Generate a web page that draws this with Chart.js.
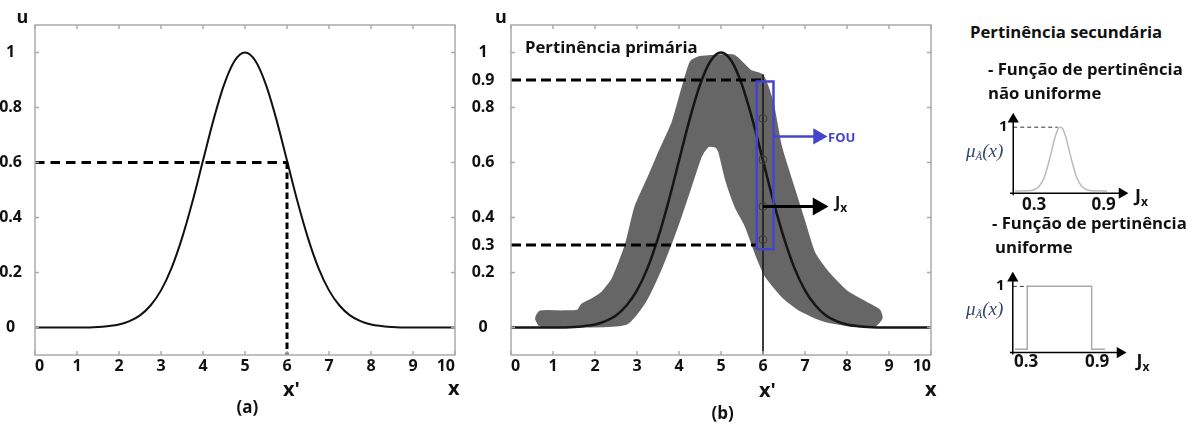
<!DOCTYPE html>
<html>
<head>
<meta charset="utf-8">
<script src="https://cdn.jsdelivr.net/npm/chart.js"></script>
<style>
body { margin: 0; background: #fff; }
#wrap { position: relative; width: 1200px; height: 426px; overflow: hidden; background: #fff; }
canvas { position: absolute; }
.t { position: absolute; font-family: 'Open Sans', sans-serif; font-weight: 700; font-size: 16.7px; line-height: 1; color: #111; white-space: nowrap; }
.m { position: absolute; font-family: 'Liberation Serif', serif; font-style: italic; font-size: 19px; line-height: 1; color: #34476b; white-space: nowrap; }
.sub { font-size: 12px; position: relative; top: 4px; }
.msub { font-size: 11px; position: relative; top: 3px; }
</style>
</head>
<body>
<div id="wrap">
  <canvas id="chartA" width="480" height="426" style="left:0;top:0"></canvas>
  <canvas id="chartB" width="500" height="426" style="left:460px;top:0"></canvas>
  <canvas id="chartC" width="240" height="120" style="left:960px;top:100px"></canvas>
  <canvas id="chartD" width="240" height="120" style="left:960px;top:260px"></canvas>

  <div class="t" style="left:16.5px;top:6.7px;font-size:18px">u</div>
  <div class="t" style="left:283px;top:379px;font-size:20px">x'</div>
  <div class="t" style="left:448px;top:378px;font-size:20px">x</div>
  <div class="t" style="left:236.5px;top:398px;font-size:17px">(a)</div>

  <div class="t" style="left:495px;top:7px;font-size:18px">u</div>
  <div class="t" style="left:525px;top:38.5px">Pertinência primária</div>
  <div class="t" style="left:759px;top:380px;font-size:20px">x'</div>
  <div class="t" style="left:925px;top:379px;font-size:20px">x</div>
  <div class="t" style="left:711.5px;top:404px;font-size:17px">(b)</div>
  <div class="t" style="left:828px;top:131px;font-size:13px;color:#4444cc">FOU</div>
  <div class="t" style="left:835px;top:194px;font-size:16px">J<span class="sub">x</span></div>

  <div class="t" style="left:970px;top:23.5px">Pertinência secundária</div>
  <div class="t" style="left:988px;top:61.2px">- Função de pertinência</div>
  <div class="t" style="left:988px;top:85.2px">não uniforme</div>
  <div class="t" style="left:992px;top:215.2px">- Função de pertinência</div>
  <div class="t" style="left:995px;top:238.5px">uniforme</div>

  <div class="t" style="left:999px;top:118.4px;font-size:15px">1</div>
  <div class="m" style="left:966px;top:140.5px">μ<span class="msub">Ã</span>(x)</div>
  <div class="t" style="left:1022px;top:195px;font-size:17px">0.3</div>
  <div class="t" style="left:1091.5px;top:195px;font-size:17px">0.9</div>
  <div class="t" style="left:1135px;top:185.7px;font-size:18px">J<span class="sub">x</span></div>

  <div class="t" style="left:996px;top:276.7px;font-size:15px">1</div>
  <div class="m" style="left:966px;top:299px">μ<span class="msub">Ã</span>(x)</div>
  <div class="t" style="left:1014px;top:351.6px;font-size:17px">0.3</div>
  <div class="t" style="left:1085px;top:351.6px;font-size:17px">0.9</div>
  <div class="t" style="left:1136.5px;top:350.7px;font-size:18px">J<span class="sub">x</span></div>
</div>
<script>
// primary membership curve
var xs = [0, 0.5, 1, 1.5, 2, 2.25, 2.5, 2.75, 3, 3.25, 3.5, 3.75, 4, 4.25, 4.5, 4.75, 5,
          5.25, 5.5, 5.75, 6, 6.25, 6.5, 6.75, 7, 7.25, 7.5, 7.75, 8, 8.5, 9, 9.5, 10];
var uVals = [0, 0, 0, 0.002, 0.011, 0.023, 0.044, 0.08, 0.135, 0.216, 0.325, 0.458, 0.607, 0.755, 0.882, 0.969, 1,
             0.969, 0.882, 0.755, 0.607, 0.458, 0.325, 0.216, 0.135, 0.08, 0.044, 0.023, 0.011, 0.002, 0, 0, 0];

var xTicks = [0, 1, 2, 3, 4, 5, 6, 7, 8, 9, 10];
var uTicksA = [0, 0.2, 0.4, 0.6, 0.8, 1];
var uTicksB = [0, 0.2, 0.3, 0.4, 0.6, 0.8, 0.9, 1];
var frameTicksY = [0, 0.2, 0.4, 0.6, 0.8, 1];

var xPrime = 6;
var uPrime = 0.6;
var uLow = 0.3, uHigh = 0.9;

// footprint of uncertainty outline (outer edge left->right, then inner edge back)
var fouX = [0.7, 0.62, 0.7, 1.2, 1.6, 1.7, 1.95, 2.2, 2.44, 2.75, 2.99, 3.31, 3.55, 3.87, 4.1, 4.3, 4.5, 4.9,
            5.3, 5.69, 5.97, 6.2, 6.4, 6.64, 6.95, 7.2, 7.52, 7.99, 8.47, 8.75, 8.8, 8.65,
            8.07, 7.43, 6.88, 6.48, 6.08, 5.85, 5.61, 5.37, 5.14, 4.98, 4.9, 4.74, 4.66, 4.5, 4.26, 4.02, 3.79,
            3.47, 3.15, 2.75, 2.2, 0.7];
var fouY = [0.008, 0.033, 0.055, 0.055, 0.058, 0.08, 0.1, 0.127, 0.176, 0.297, 0.44, 0.55, 0.636, 0.745, 0.867, 0.964, 0.98, 0.985,
            0.985, 0.93, 0.915, 0.82, 0.66, 0.54, 0.39, 0.27, 0.2, 0.127, 0.085, 0.06, 0.035, 0.01,
            0.01, 0.03, 0.067, 0.115, 0.19, 0.27, 0.37, 0.44, 0.54, 0.64, 0.66, 0.665, 0.66, 0.624, 0.515, 0.406, 0.309,
            0.188, 0.09, 0.018, 0.008, 0.008];

// secondary grades sampled at x'
var jxU = [0.76, 0.61, 0.44, 0.32];
var fouBox = { x0: 5.85, x1: 6.25, y0: 0.285, y1: 0.895 };

// secondary MF, non uniform
var jx1 = [0.18, 0.3, 0.35, 0.4, 0.45, 0.5, 0.55, 0.58, 0.6, 0.62, 0.65, 0.7, 0.75, 0.8, 0.85, 0.9, 1.03];
var mu1 = [0.035, 0.037, 0.048, 0.096, 0.238, 0.52, 0.847, 0.98, 1, 0.98, 0.847, 0.52, 0.238, 0.096, 0.048, 0.037, 0.035];
// secondary MF, uniform
var jx2 = [0.185, 0.3, 0.3, 0.9, 0.9, 1.024];
var mu2 = [0.05, 0.05, 1, 1, 0.05, 0.05];

function pts(xa, ya) { return xa.map(function (x, i) { return { x: x, y: ya[i] }; }); }

var tickFont = { family: 'Open Sans', weight: 'bold', size: 16 };

var frame = {
    id: 'frame',
    afterDatasetsDraw: function (chart, args, o) {
        if (!o.on) return;
        var ctx = chart.ctx, a = chart.chartArea, x = chart.scales.x, y = chart.scales.y;
        ctx.save();
        ctx.strokeStyle = '#aaa';
        ctx.lineWidth = 1.5;
        ctx.strokeRect(a.left, a.top, a.right - a.left, a.bottom - a.top);
        ctx.beginPath();
        xTicks.forEach(function (v) {
            var p = x.getPixelForValue(v);
            ctx.moveTo(p, a.top); ctx.lineTo(p, a.top + 4);
            ctx.moveTo(p, a.bottom); ctx.lineTo(p, a.bottom - 4);
        });
        frameTicksY.forEach(function (v) {
            var p = y.getPixelForValue(v);
            ctx.moveTo(a.left, p); ctx.lineTo(a.left + 4, p);
            ctx.moveTo(a.right, p); ctx.lineTo(a.right - 4, p);
        });
        ctx.stroke();
        ctx.restore();
    }
};

function panelOptions(yTicks, yPad, yWidth, rightPad) {
    return {
        animation: false,
        responsive: false,
        events: [],
        layout: { padding: { top: 25, right: rightPad, left: 0, bottom: 0 } },
        plugins: { legend: { display: false }, tooltip: { enabled: false }, frame: { on: true } },
        scales: {
            x: {
                type: 'linear', min: 0, max: 10,
                afterBuildTicks: function (s) { s.ticks = xTicks.map(function (v) { return { value: v }; }); },
                afterFit: function (s) { s.height = 71; },
                grid: { display: false },
                border: { display: false },
                ticks: { align: 'inner', padding: -6, font: tickFont, color: '#111', maxRotation: 0, autoSkip: false,
                         callback: function (v) { return String(v); } }
            },
            y: {
                type: 'linear', min: -0.1, max: 1.1,
                afterBuildTicks: function (s) { s.ticks = yTicks.map(function (v) { return { value: v }; }); },
                afterFit: function (s) { s.width = yWidth; },
                grid: { display: false },
                border: { display: false },
                ticks: { crossAlign: 'center', padding: yPad, font: tickFont, color: '#111', autoSkip: false,
                         callback: function (v) { return String(v); } }
            }
        }
    };
}

var lineBase = { pointRadius: 0, fill: false, tension: 0 };

// (a)
new Chart(document.getElementById('chartA'), {
    type: 'line',
    data: {
        datasets: [
            Object.assign({}, lineBase, { data: pts(xs, uVals), borderColor: '#111', borderWidth: 2, cubicInterpolationMode: 'monotone', order: 2 }),
            Object.assign({}, lineBase, { data: [{ x: 0, y: uPrime }, { x: xPrime, y: uPrime }], borderColor: '#000', borderWidth: 3, borderDash: [9.5, 6], order: 1 }),
            Object.assign({}, lineBase, { data: [{ x: xPrime, y: uPrime }, { x: xPrime, y: -0.1 }], borderColor: '#000', borderWidth: 3, borderDash: [6.5, 3.5], order: 1 })
        ]
    },
    options: panelOptions(uTicksA, 5, 35, 25),
    plugins: [frame]
});

// (b)
new Chart(document.getElementById('chartB'), {
    type: 'line',
    data: {
        datasets: [
            Object.assign({}, lineBase, { data: pts(fouX, fouY), fill: 'shape', backgroundColor: '#666', borderColor: '#666', borderWidth: 4,
                                          borderJoinStyle: 'round', tension: 0.2, order: 9 }),
            Object.assign({}, lineBase, { data: pts(xs, uVals), borderColor: '#151515', borderWidth: 2.5, cubicInterpolationMode: 'monotone', order: 8 }),
            Object.assign({}, lineBase, { data: [{ x: 0, y: uHigh }, { x: xPrime, y: uHigh }], borderColor: '#000', borderWidth: 3, borderDash: [10, 5], order: 7 }),
            Object.assign({}, lineBase, { data: [{ x: 0, y: uLow }, { x: fouBox.x0, y: uLow }], borderColor: '#000', borderWidth: 3, borderDash: [10, 5], order: 7 }),
            Object.assign({}, lineBase, { data: [{ x: xPrime, y: 0.92 }, { x: xPrime, y: -0.1 }], borderColor: '#222', borderWidth: 1, order: 6 }),
            { data: pts([xPrime, xPrime, xPrime, xPrime], jxU), showLine: false, pointRadius: 4, pointStyle: 'circle',
              pointBackgroundColor: 'rgba(0,0,0,0)', pointBorderColor: '#3a3a3a', pointBorderWidth: 1, order: 5 },
            Object.assign({}, lineBase, { data: [{ x: fouBox.x0, y: fouBox.y0 }, { x: fouBox.x1, y: fouBox.y0 }, { x: fouBox.x1, y: fouBox.y1 },
                                                 { x: fouBox.x0, y: fouBox.y1 }, { x: fouBox.x0, y: fouBox.y0 }],
                                          borderColor: '#4444cc', borderWidth: 2.5, borderJoinStyle: 'miter', order: 4 }),
            Object.assign({}, lineBase, { data: [{ x: fouBox.x1, y: 0.695 }, { x: 7.31, y: 0.695 }], borderColor: '#4444cc', borderWidth: 2.5,
                                          pointRadius: [0, 7], pointStyle: 'triangle', pointRotation: 90,
                                          pointBackgroundColor: '#4444cc', pointBorderColor: '#4444cc', order: 3 }),
            Object.assign({}, lineBase, { data: [{ x: xPrime, y: 0.44 }, { x: 7.31, y: 0.44 }], borderColor: '#000', borderWidth: 3,
                                          pointRadius: [0, 7.5], pointStyle: 'triangle', pointRotation: 90,
                                          pointBackgroundColor: '#000', pointBorderColor: '#000', order: 2 })
        ]
    },
    options: panelOptions(uTicksB, 8.5, 51, 29),
    plugins: [frame]
});

function smallOptions(pad) {
    return {
        animation: false,
        responsive: false,
        events: [],
        layout: { padding: pad },
        plugins: { legend: { display: false }, tooltip: { enabled: false } },
        scales: {
            x: { type: 'linear', min: 0.1, max: 1.3, display: false },
            y: { type: 'linear', min: -0.2, max: 1.3, display: false }
        }
    };
}

function axesSets(x0, xEnd, yAxisX, yEnd) {
    return [
        Object.assign({}, lineBase, { data: [{ x: x0, y: 0 }, { x: xEnd, y: 0 }], borderColor: '#000', borderWidth: 1.5,
                                      pointRadius: [0, 5], pointStyle: 'triangle', pointRotation: 90,
                                      pointBackgroundColor: '#000', pointBorderColor: '#000', order: 1 }),
        Object.assign({}, lineBase, { data: [{ x: yAxisX, y: -0.03 }, { x: yAxisX, y: yEnd }], borderColor: '#000', borderWidth: 1.5,
                                      pointRadius: [0, 5], pointStyle: 'triangle', pointRotation: 0,
                                      pointBackgroundColor: '#000', pointBorderColor: '#000', order: 1 })
    ];
}

// secondary MF, non uniform
new Chart(document.getElementById('chartC'), {
    type: 'line',
    data: {
        datasets: [
            Object.assign({}, lineBase, { data: pts(jx1, mu1), borderColor: '#bbb', borderWidth: 1.5, cubicInterpolationMode: 'monotone', order: 3 }),
            Object.assign({}, lineBase, { data: [{ x: 0.164, y: 1 }, { x: 0.575, y: 1 }], borderColor: '#333', borderWidth: 1, borderDash: [4, 3], order: 2 })
        ].concat(axesSets(0.134, 1.168, 0.164, 1.12))
    },
    options: smallOptions({ left: 46.3, right: 63.7, top: 7.4, bottom: 13.6 })
});

// secondary MF, uniform
new Chart(document.getElementById('chartD'), {
    type: 'line',
    data: {
        datasets: [
            Object.assign({}, lineBase, { data: pts(jx2, mu2), borderColor: '#aaa', borderWidth: 1.5, order: 3 }),
            Object.assign({}, lineBase, { data: [{ x: 0.165, y: 1 }, { x: 0.3, y: 1 }], borderColor: '#333', borderWidth: 1, borderDash: [4, 3], order: 2 })
        ].concat(axesSets(0.139, 1.164, 0.165, 1.123))
    },
    options: smallOptions({ left: 45.8, right: 65.4, top: 5, bottom: 14.2 })
});
</script>
</body>
</html>
